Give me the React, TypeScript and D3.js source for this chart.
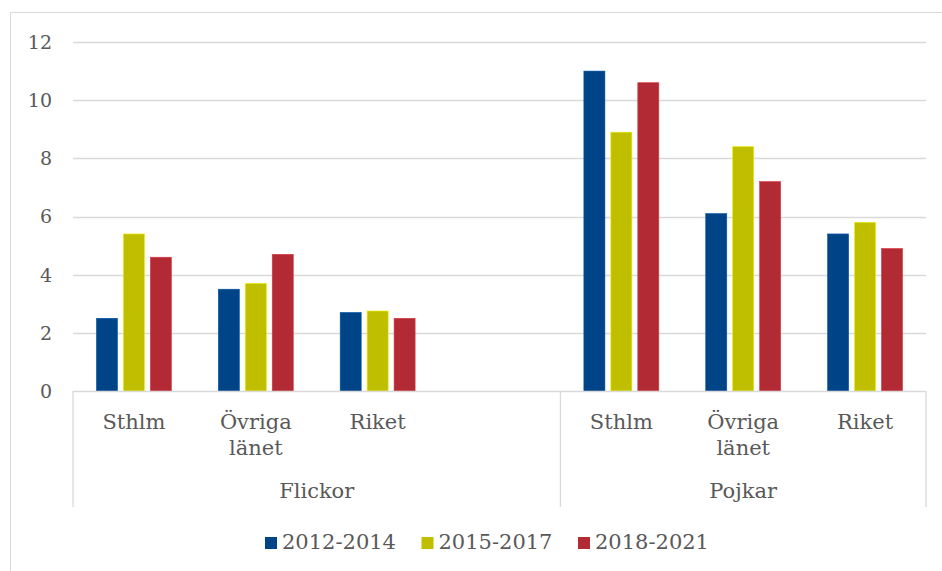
import * as d3 from "d3";
import { useEffect, useRef } from "react";

// Kategorier (tom kategori mellan grupperna, som i originalet)
const groups = ["Flickor", "Pojkar"];
const categories = [
  { group: "Flickor", label: ["Sthlm"] },
  { group: "Flickor", label: ["Övriga", "länet"] },
  { group: "Flickor", label: ["Riket"] },
  { group: "Flickor", label: [] },
  { group: "Pojkar", label: ["Sthlm"] },
  { group: "Pojkar", label: ["Övriga", "länet"] },
  { group: "Pojkar", label: ["Riket"] },
];

const series = ["2012-2014", "2015-2017", "2018-2021"];
const colors = ["#004488", "#BFBF00", "#B22A33"];

const values2012 = [2.5, 3.5, 2.7, null, 11.0, 6.1, 5.4];
const values2015 = [5.4, 3.7, 2.75, null, 8.9, 8.4, 5.8];
const values2018 = [4.6, 4.7, 2.5, null, 10.6, 7.2, 4.9];
const seriesValues = [values2012, values2015, values2018];

const yTicks = [0, 2, 4, 6, 8, 10, 12];

const App = () => {
  const svgRef = useRef(null);

  useEffect(() => {
    const svg = d3.select(svgRef.current);
    svg.selectAll("*").remove();

    const width = 942;
    const height = 571;
    const font = "'DejaVu Serif', Georgia, serif";
    const textColor = "#595959";
    const gridColor = "#D9D9D9";

    svg.attr("width", width).attr("height", height);

    // Ram runt diagrammet
    svg.append("rect")
      .attr("x", 10.5).attr("y", 12.5)
      .attr("width", 1000).attr("height", 1000)
      .attr("fill", "white").attr("stroke", gridColor);

    const left = 73;
    const right = 926;
    const top = 42;
    const bottom = 391;

    const x0 = d3.scaleBand()
      .domain(d3.range(categories.length))
      .range([left, right]);

    const groupWidth = x0.bandwidth() * 0.615;
    const x1 = d3.scaleBand()
      .domain(series)
      .range([-groupWidth / 2, groupWidth / 2])
      .paddingInner(0.22);

    const y = d3.scaleLinear().domain([0, 12]).range([bottom, top]);

    // Stödlinjer
    svg.append("g")
      .selectAll("line")
      .data(yTicks.filter((d) => d > 0))
      .enter()
      .append("line")
      .attr("x1", left).attr("x2", right)
      .attr("y1", (d) => Math.round(y(d)) + 0.5)
      .attr("y2", (d) => Math.round(y(d)) + 0.5)
      .attr("stroke", gridColor).attr("stroke-width", 1.3);

    // Y-axelns etiketter
    svg.append("g")
      .selectAll("text")
      .data(yTicks)
      .enter()
      .append("text")
      .attr("x", 52)
      .attr("y", (d) => y(d))
      .attr("dy", "0.36em")
      .attr("text-anchor", "end")
      .attr("font-family", font)
      .attr("font-size", 19)
      .attr("fill", textColor)
      .text((d) => d);

    // Staplar
    series.forEach((s, i) => {
      const data = seriesValues[i]
        .map((v, c) => ({ v, c }))
        .filter((d) => d.v !== null);
      svg.append("g")
        .selectAll("rect")
        .data(data)
        .enter()
        .append("rect")
        .attr("x", (d) => x0(d.c) + x0.bandwidth() / 2 + x1(s))
        .attr("y", (d) => y(d.v))
        .attr("width", x1.bandwidth())
        .attr("height", (d) => y(0) - y(d.v))
        .attr("fill", colors[i])
        .attr("stroke", d3.color(colors[i]).brighter(0.6))
        .attr("stroke-width", 0.6);
    });

    // Kategoriaxel
    const axis = svg.append("g").attr("stroke", gridColor).attr("stroke-width", 1.3);
    axis.append("line")
      .attr("x1", left).attr("x2", right)
      .attr("y1", bottom + 0.5).attr("y2", bottom + 0.5);

    const groupBounds = groups.map((g) => {
      const idx = categories.map((c, i) => (c.group === g ? i : -1)).filter((i) => i >= 0);
      return {
        g,
        x1: x0(idx[0]),
        x2: x0(idx[idx.length - 1]) + x0.bandwidth(),
      };
    });

    const edges = [groupBounds[0].x1, ...groupBounds.map((b) => b.x2)];
    axis.selectAll("line.sep")
      .data(edges)
      .enter()
      .append("line")
      .attr("class", "sep")
      .attr("x1", (d) => d).attr("x2", (d) => d)
      .attr("y1", bottom).attr("y2", 507);

    // Kategorietiketter
    categories.forEach((c, i) => {
      c.label.forEach((line, j) => {
        svg.append("text")
          .attr("x", x0(i) + x0.bandwidth() / 2)
          .attr("y", 429 + j * 26)
          .attr("text-anchor", "middle")
          .attr("font-family", font)
          .attr("font-size", 21)
          .attr("fill", textColor)
          .text(line);
      });
    });

    groupBounds.forEach((b) => {
      svg.append("text")
        .attr("x", (b.x1 + b.x2) / 2)
        .attr("y", 498)
        .attr("text-anchor", "middle")
        .attr("font-family", font)
        .attr("font-size", 21)
        .attr("fill", textColor)
        .text(b.g);
    });

    // Förklaring
    const legend = svg.append("g");
    series.forEach((s, i) => {
      const lx = 265 + i * 156.5;
      legend.append("rect")
        .attr("x", lx).attr("y", 537)
        .attr("width", 12).attr("height", 12)
        .attr("fill", colors[i]);
      legend.append("text")
        .attr("x", lx + 17)
        .attr("y", 549)
        .attr("font-family", font)
        .attr("font-size", 21)
        .attr("fill", textColor)
        .text(s);
    });
  }, []);

  return (
    <svg
      ref={svgRef}
      style={{ position: "absolute", left: 0, top: 0, display: "block" }}
    ></svg>
  );
};

export default App;
